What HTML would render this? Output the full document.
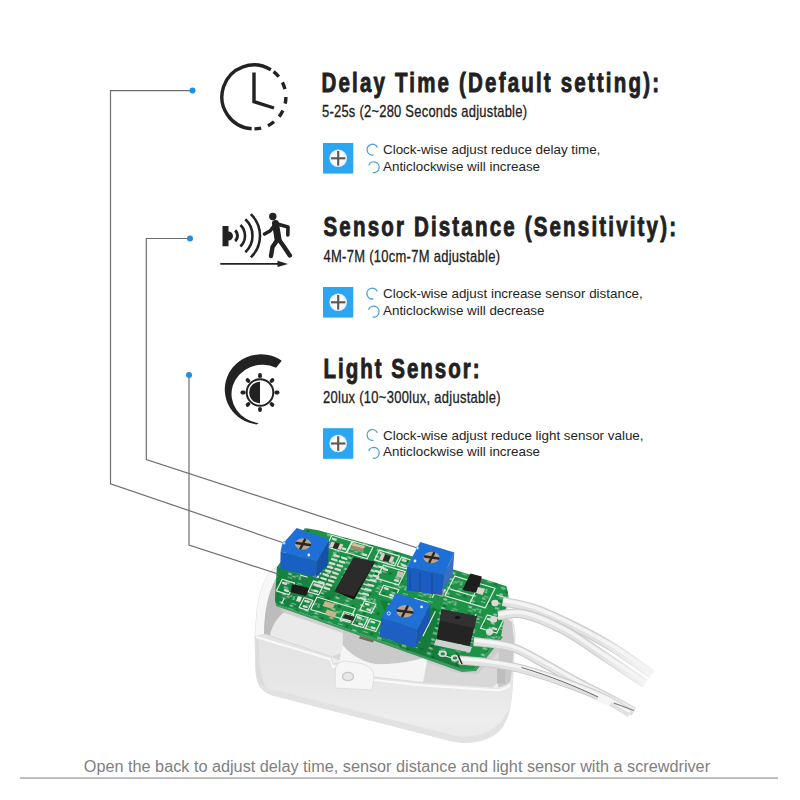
<!DOCTYPE html>
<html><head><meta charset="utf-8">
<style>
html,body{margin:0;padding:0;background:#fff;width:800px;height:800px;overflow:hidden}
svg{display:block}
text{font-family:"Liberation Sans",sans-serif}
</style></head>
<body>
<svg width="800" height="800" viewBox="0 0 800 800">
<defs>
  <radialGradient id="scr" cx="0.5" cy="0.5" r="0.5">
    <stop offset="0" stop-color="#fff"/><stop offset="0.8" stop-color="#f4f8fb"/><stop offset="1" stop-color="#dfe9f0"/>
  </radialGradient>
  <g id="blueicon">
    <rect x="0" y="0" width="30.3" height="30.6" fill="#2ca5f3"/>
    <circle cx="15.2" cy="15.3" r="8.8" fill="url(#scr)"/>
    <rect x="8" y="14.25" width="14.4" height="2.1" fill="#5e5650"/>
    <rect x="14.15" y="8" width="2.1" height="14.6" fill="#5e5650"/>
  </g>
  <path id="acw" d="M 0.9 5.3 A 5.4 5.4 0 1 1 4.9 -2.3" fill="none" stroke="#4f9bd4" stroke-width="1.3"/>
  <path id="accw" d="M -5.07 -1.85 A 5.4 5.4 0 1 1 -0.94 5.32" fill="none" stroke="#4f9bd4" stroke-width="1.3"/>
</defs>

<!-- PRODUCT -->
<defs>
  <linearGradient id="frontwall" x1="0" y1="0" x2="0" y2="1">
    <stop offset="0" stop-color="#e3e3e3"/><stop offset="0.4" stop-color="#e6e6e6"/><stop offset="0.8" stop-color="#ededed"/><stop offset="1" stop-color="#e9e9e9"/>
  </linearGradient>
  <linearGradient id="cavity" x1="0" y1="0" x2="1" y2="0.3">
    <stop offset="0" stop-color="#d2d2d2"/><stop offset="0.5" stop-color="#e2e2e2"/><stop offset="1" stop-color="#cfcfcf"/>
  </linearGradient>
  <radialGradient id="pir" cx="0.5" cy="0.45" r="0.5">
    <stop offset="0" stop-color="#ececec"/><stop offset="0.85" stop-color="#e2e2e2"/><stop offset="1" stop-color="#cdcdcd"/>
  </radialGradient>
  <linearGradient id="wire" x1="0" y1="0" x2="0" y2="1">
    <stop offset="0" stop-color="#fafafa"/><stop offset="1" stop-color="#dedede"/>
  </linearGradient>
</defs>
<g id="housing">
  <!-- silhouette -->
  <path d="M 270 572 C 263 582 259 595 257 610 L 255 636 L 256 672 C 257 684 261 691 272 695 L 452 741 C 472 745 490 740 500 730 C 508 720 511 705 512 690 L 513.5 662 L 515 636 C 515 628 513 622 510 614 L 506 604 L 470 586 L 300 548 Z" fill="#eeeeee" stroke="#dedede" stroke-width="1"/>
  <!-- cavity base -->
  <path d="M 276 578 C 268 592 264 612 264 634 L 331 656.5 L 374 677 L 423 682.5 L 493 687 L 505 678 L 506 604 L 470 586 L 300 548 Z" fill="#d8d8d8"/>
  <!-- left floor bright -->
  <path d="M 269 635 C 273 620 282 611 296 608 L 346 624 L 346 652 L 331 656.5 Z" fill="#eaeaea"/>
  <!-- left inner wall (darker) -->
  <path d="M 277 576 C 268 592 263 612 264 634 L 270 635 C 273 622 281 612 293 606 L 279 603 Z" fill="#bcbcbc"/>
  <!-- shadow under PCB -->
  <path d="M 279 605 L 462 669 L 474 669 L 501 636 L 503 646 L 478 674 L 458 673 L 282 612 Z" fill="#c9c9c9" opacity="0.8"/>
  <!-- PIR disc -->
  <path d="M 343 612 L 342.75 645 C 352 657 368 664.5 381 664.3 C 398 664 414 661 426.75 657 C 430 648 432 636 430 622 L 420 610 Z" fill="#cacaca"/>
  <path d="M 360 636 L 374 640 L 373 642.5 L 359 638.5 Z" fill="#7a6a58"/>
  <!-- white crescent under disc -->
  <path d="M 342.75 645 C 352 657 368 664.5 381 664.3 C 398 664 414 661 426.75 657 L 426.75 662.5 L 423 682.5 L 374 677 L 339 662.5 Z" fill="#f5f5f5"/>
  <!-- right inner wall (gray strip) -->
  <path d="M 497 612 L 512 622 L 514 640 L 511 690 L 498 689 L 499 650 Z" fill="#c9c9c9"/>
  <path d="M 497 660 L 505 662 L 505 684 L 497 683 Z" fill="#bdbdbd"/>
  <!-- left rim light band -->
  <path d="M 270 572 C 263 582 259 595 257 610 L 255 636 L 264 634 C 264 612 268 592 277 576 Z" fill="#f7f7f7"/>
  <!-- front wall -->
  <path d="M 255 636 L 264 634 L 331 656.5 L 333 664 L 343 662 L 374 677 L 423 682.5 L 493 687 C 500 688 505 686 510 682 L 513.5 662 L 512 690 C 511 705 508 720 500 730 C 490 740 472 745 452 741 L 272 695 C 261 691 257 684 256 672 Z" fill="url(#frontwall)"/>
  <path d="M 255 636 L 259 637 C 259 660 260 676 266 688 L 272 695 C 261 691 257 684 256 672 Z" fill="#dcdcdc"/>
  <!-- rim highlight -->
  <path d="M 256 637 L 331 659.5 L 333 667 L 343 665 L 374 680 L 423 685.5 L 493 690 C 500 691 505 689 510 685" fill="none" stroke="#f9f9f9" stroke-width="2.2"/>
  <path d="M 264 634 L 331 656.5 L 333 664 L 343 662 L 374 677 L 423 682.5 L 493 687" fill="none" stroke="#d6d6d6" stroke-width="0.8"/>
  <!-- tab -->
  <path d="M 335 688 L 335.5 668 C 337 663 341 661 346 661 L 363 664 C 370 666 374 671 374 677 L 372 690 Z" fill="#f6f6f6" stroke="#dadada" stroke-width="0.8"/>
  <ellipse cx="348" cy="676.5" rx="5.5" ry="4.2" fill="#e8e8e8" stroke="#c8c8c8" stroke-width="1.3"/>
  <!-- bottom shading -->
  <path d="M 258 682 C 260 689 264 692 272 695 L 452 741 C 472 745 490 740 500 730 C 506 723 509 714 511 704 C 505 720 495 731 478 735 C 468 737 460 737 452 735 L 276 690 C 268 688 262 686 258 682 Z" fill="#e2e2e2"/>
</g>
<g id="pcb">
  <!-- board edge (thickness) -->
  <path d="M 275 599 L 276 606 L 462 672 L 476 671 L 503 637 L 501 636 L 474 669 L 462 669 L 279 605 C 276 604 275 602 275 599 Z" fill="#3c9a5c"/>
  <!-- board -->
  <path d="M 305 528 L 317 530 L 400 552.5 L 506.5 586.3 L 508.5 596 L 501 636 L 474 669 L 462 669 L 279 605 C 276 604 275 602 275 599 L 277 567 Z" fill="#1c9247"/>
  <!-- shading -->
  <path d="M 277 567 L 300 575 L 330 560 L 336 595 L 320 612 L 279 605 C 276 604 275 602 275 599 Z" fill="#10793a" opacity="0.6"/>
  <path d="M 380 600 L 440 610 L 436 640 L 462 669 L 400 648 Z" fill="#0f7036" opacity="0.6"/>
  <!-- texture -->
  <defs>
    <pattern id="pcbtex" width="26" height="21" patternUnits="userSpaceOnUse" patternTransform="rotate(17)">
      <rect x="7.1" y="2.7" width="2.5" height="1.6" fill="#e6eee6"/><rect x="2.1" y="10.5" width="3.5" height="1.6" fill="#d3e3d6"/><rect x="9.5" y="1.3" width="2.5" height="1.4" fill="#c2d8c6"/><rect x="1.3" y="10.2" width="3.5" height="1.4" fill="#e6eee6"/><rect x="12.8" y="1.1" width="2" height="1.6" fill="#d3e3d6"/><rect x="1.0" y="15.5" width="4.5" height="2" fill="#d3e3d6"/><rect x="11.9" y="10.3" width="3.5" height="1.6" fill="#e6eee6"/><rect x="12.6" y="3.4" width="2.5" height="1.4" fill="#e6eee6"/><rect x="1.4" y="1.1" width="3.5" height="2" fill="#e6eee6"/><rect x="11.7" y="14.0" width="5" height="0.9" fill="#d9e6db"/><rect x="12.9" y="8.2" width="5" height="0.9" fill="#d9e6db"/><rect x="5.5" y="3.2" width="3" height="0.9" fill="#d9e6db"/><rect x="1.8" y="5.4" width="5" height="0.9" fill="#d9e6db"/><rect x="19.3" y="13.1" width="3" height="2.4" fill="#0c5a28"/><rect x="6.3" y="17.6" width="3" height="2.4" fill="#0c5a28"/><rect x="2.6" y="7.5" width="3" height="2.4" fill="#0c5a28"/>
    </pattern>
    <clipPath id="pcbclip"><path d="M 305 528 L 317 530 L 400 552.5 L 506.5 586.3 L 508.5 596 L 501 636 L 474 669 L 462 669 L 279 605 C 276 604 275 602 275 599 L 277 567 Z"/></clipPath>
  </defs>
  <g clip-path="url(#pcbclip)" opacity="0.6">
    <rect x="270" y="520" width="245" height="155" fill="url(#pcbtex)"/>
  </g>
  <!-- silkscreen outlines -->
  <g fill="none" stroke="#e3ece3" stroke-width="1.15" stroke-linejoin="round" id="silk">
    <path d="M 282.2 579.3 L 294.7 583.1 L 288.8 594.7 L 276.3 590.9 Z"/>
    <path d="M 313.4 581.1 L 324.0 584.2 L 318.6 594.9 L 308.0 591.8 Z"/>
    <path d="M 304.2 597.8 L 312.8 600.4 L 307.8 610.2 L 299.2 607.6 Z"/>
    <path d="M 317.0 597.0 L 355.3 608.5 L 349.0 621.0 L 310.7 609.5 Z"/>
    <path d="M 356.7 614.4 L 368.2 617.8 L 363.3 627.6 L 351.8 624.2 Z"/>
    <path d="M 370.2 618.5 L 380.7 621.7 L 375.8 631.5 L 365.3 628.3 Z"/>
    <path d="M 344.2 611.5 L 353.8 614.4 L 349.8 622.5 L 340.2 619.6 Z"/>
    <path d="M 331.9 535.2 L 352.0 541.2 L 346.1 552.8 L 326.0 546.8 Z"/>
    <path d="M 352.9 541.2 L 373.0 547.2 L 367.1 558.8 L 347.0 552.8 Z"/>
    <path d="M 379.4 550.1 L 399.5 556.1 L 394.6 565.9 L 374.5 559.9 Z"/>
    <path d="M 401.5 557.1 L 411.0 560.0 L 406.5 568.9 L 397.0 566.0 Z"/>
    <path d="M 383.4 565.0 L 405.4 571.6 L 398.6 585.0 L 376.6 578.4 Z"/>
    <path d="M 383.6 585.2 L 398.9 589.8 L 394.4 598.8 L 379.1 594.2 Z"/>
    <path d="M 364.5 600.8 L 376.0 604.3 L 371.5 613.2 L 360.0 609.7 Z"/>
    <path d="M 454.8 576.1 L 495.1 588.2 L 485.2 607.9 L 444.9 595.8 Z"/>
    <path d="M 487.2 614.9 L 503.5 619.7 L 496.8 633.1 L 480.5 628.3 Z"/>
    <path d="M 308.5 533.8 L 320.0 537.3 L 315.5 546.2 L 304.0 542.7 Z"/>
    <path d="M 450.4 589.1 L 473.4 596.0"/>
    <path d="M 479.7 583.6 L 469.8 603.3"/>
    <path d="M 476.1 613.9 L 459.9 646.1"/>
    <path d="M 432.3 597.7 L 438.6 585.2"/>
    <path d="M 435.4 611.3 L 422.8 636.3"/>
    <path d="M 414.3 598.3 L 427.7 602.3"/>
    <path d="M 438.6 654.0 L 465.4 662.0"/>
    <path d="M 496.2 594.9 L 505.7 597.7"/>
    <path d="M 284.3 598.3 L 281.6 603.6"/>
    <path d="M 300.0 575.0 L 307.7 577.3"/>
  </g>
  <g stroke="#d5ddd5" stroke-width="2.3" stroke-linecap="round" id="pads">
    <path d="M 341.9 557.5 L 346.3 558.8"/>
    <path d="M 334.3 555.2 L 338.7 556.5"/>
    <path d="M 339.8 561.3 L 344.2 562.6"/>
    <path d="M 332.1 559.0 L 336.5 560.3"/>
    <path d="M 337.6 565.1 L 342.0 566.4"/>
    <path d="M 330.0 562.8 L 334.4 564.1"/>
    <path d="M 322.3 560.5 L 326.7 561.8"/>
    <path d="M 335.5 568.9 L 339.9 570.2"/>
    <path d="M 327.8 566.6 L 332.2 567.9"/>
    <path d="M 320.1 564.3 L 324.6 565.6"/>
    <path d="M 333.3 572.7 L 337.7 574.0"/>
    <path d="M 325.7 570.4 L 330.1 571.7"/>
    <path d="M 318.0 568.1 L 322.4 569.4"/>
    <path d="M 331.2 576.5 L 335.6 577.8"/>
    <path d="M 323.5 574.2 L 327.9 575.5"/>
    <path d="M 315.8 571.9 L 320.3 573.2"/>
    <path d="M 329.0 580.3 L 333.4 581.6"/>
    <path d="M 321.4 578.0 L 325.8 579.3"/>
    <path d="M 313.7 575.7 L 318.1 577.0"/>
    <path d="M 326.9 584.1 L 331.3 585.4"/>
    <path d="M 319.2 581.8 L 323.6 583.1"/>
    <path d="M 324.7 587.9 L 329.1 589.2"/>
    <path d="M 317.1 585.6 L 321.5 586.9"/>
    <path d="M 378.5 566.5 L 383.3 567.9"/>
    <path d="M 375.9 571.0 L 380.7 572.4"/>
    <path d="M 373.4 575.5 L 378.2 576.9"/>
    <path d="M 370.9 580.0 L 375.6 581.4"/>
    <path d="M 368.3 584.5 L 373.1 585.9"/>
    <path d="M 365.8 589.0 L 370.5 590.4"/>
    <path d="M 363.2 593.5 L 368.0 594.9"/>
    <path d="M 360.6 598.0 L 365.4 599.4"/>
    <path d="M 283.1 582.9 L 286.0 583.8"/>
    <path d="M 285.0 590.2 L 287.9 591.1"/>
    <path d="M 314.5 584.5 L 317.4 585.3"/>
    <path d="M 314.6 590.7 L 317.5 591.5"/>
    <path d="M 305.3 601.0 L 308.2 601.8"/>
    <path d="M 303.8 606.2 L 306.7 607.0"/>
    <path d="M 357.9 617.5 L 360.8 618.4"/>
    <path d="M 359.2 623.6 L 362.1 624.5"/>
    <path d="M 371.4 621.7 L 374.2 622.5"/>
    <path d="M 371.8 627.5 L 374.6 628.3"/>
    <path d="M 345.6 614.3 L 348.5 615.1"/>
    <path d="M 345.5 618.9 L 348.4 619.7"/>
    <path d="M 332.8 538.8 L 335.7 539.7"/>
    <path d="M 342.3 548.3 L 345.2 549.2"/>
    <path d="M 353.8 544.8 L 356.7 545.7"/>
    <path d="M 363.3 554.3 L 366.2 555.2"/>
    <path d="M 380.6 553.2 L 383.4 554.1"/>
    <path d="M 390.6 561.9 L 393.4 562.8"/>
    <path d="M 402.7 560.1 L 405.6 560.9"/>
    <path d="M 402.4 565.1 L 405.3 565.9"/>
    <path d="M 384.1 569.1 L 386.9 569.9"/>
    <path d="M 395.1 580.1 L 397.9 580.9"/>
    <path d="M 384.9 588.2 L 387.7 589.1"/>
    <path d="M 390.3 594.9 L 393.1 595.8"/>
    <path d="M 365.8 603.8 L 368.6 604.6"/>
    <path d="M 367.4 609.4 L 370.2 610.2"/>
    <path d="M 487.9 618.9 L 490.8 619.8"/>
    <path d="M 493.2 628.2 L 496.1 629.1"/>
    <path d="M 309.8 536.8 L 312.6 537.6"/>
    <path d="M 311.4 542.4 L 314.2 543.2"/>
  </g>
  <!-- SMD parts -->
  <g>
    <path d="M 331.5 541.5 L 343.5 544.5 L 341 550 L 329 547 Z" fill="#2a2a26"/>
    <path d="M 331.5 541.5 L 335 542.4 L 332.5 547.9 L 329 547 Z" fill="#d8d2c0"/>
    <path d="M 340 543.6 L 343.5 544.5 L 341 550 L 337.5 549.1 Z" fill="#d8d2c0"/>
    <path d="M 353 543 L 365 546 L 362.5 552 L 350.5 549 Z" fill="#9c8a6a"/>
    <path d="M 353 543 L 365 546 L 364 548.5 L 352 545.5 Z" fill="#cfc2a5"/>
    <path d="M 381.5 553.5 L 394.5 557 L 392 563 L 379 559.5 Z" fill="#2b2a26"/>
    <path d="M 381.5 553.5 L 385 554.5 L 382.5 560.5 L 379 559.5 Z" fill="#d8d2c0"/>
    <path d="M 391 556 L 394.5 557 L 392 563 L 388.5 562 Z" fill="#d8d2c0"/>
    <path d="M 325 601 L 335 604 L 332.5 609 L 322.5 606 Z" fill="#c7b38c"/>
    <path d="M 327 609.5 L 337 612.5 L 334.5 617.5 L 324.5 614.5 Z" fill="#c7b38c"/>
    <path d="M 345 614 L 355 617 L 353 621 L 343 618 Z" fill="#2a2a2a"/>
    <path d="M 434 586 L 446 589.5 L 443 597 L 431 593.5 Z" fill="#b6a078"/>
    <path d="M 434 586 L 446 589.5 L 445 592 L 433 588.5 Z" fill="#e1d7c2"/>
    <path d="M 398 571 L 404 572.5 L 402 578 L 396 576.5 Z" fill="#c8c0b0"/>
  </g>
  <!-- SOT left -->
  <path d="M 292.5 584 L 309 588 L 306 596 L 290 592 Z" fill="#1a1d1b"/>
  <path d="M 298 596 L 302 597 L 300 602 L 296 601 Z" fill="#dfe4df"/>
  <!-- SOT right -->
  <path d="M 470.5 573.5 L 481.8 576.5 L 478 593 L 462.3 590 Z" fill="#1d1d1d"/>
  <path d="M 478 587 L 485 589 L 482.5 595 L 476 593 Z" fill="#d8d6cf"/>
  <!-- chip -->
  <path d="M 353.9 557.3 L 374.9 562.1 L 354 599.5 L 334.6 591.4 Z" fill="#111"/>
  <path d="M 353.9 557.3 L 374.9 562.1 L 353.9 596.6 L 334.6 591.4 Z" fill="#2b2b2b"/>
  <g stroke="#d0d0d0" stroke-width="1.7" stroke-linecap="round">
    <path d="M 374 566 L 377 567"/><path d="M 371.5 570.5 L 374.5 571.5"/><path d="M 369 575 L 372 576"/>
    <path d="M 366.5 579.5 L 369.5 580.5"/><path d="M 364 584 L 367 585"/><path d="M 361.5 588.5 L 364.5 589.5"/>
    <path d="M 359 593 L 362 594"/><path d="M 356.5 597.5 L 359.5 598.5"/>
  </g>
  <!-- MOSFET -->
  <path d="M 436 639 L 472 647 L 470 652.5 L 434 645 Z" fill="#d0d0d0"/>
  <path d="M 441.75 609.25 L 476.75 616.25 L 469.75 646 L 436.5 639 Z" fill="#242424"/>
  <path d="M 441.75 609.25 L 476.75 616.25 L 474.5 628 L 439.5 620.5 Z" fill="#313131"/>
  <ellipse cx="457.5" cy="617.5" rx="2.8" ry="1.6" fill="#151515"/>
  <!-- solder pads with holes -->
  <g fill="#dadada">
    <ellipse cx="442.7" cy="653.8" rx="4.2" ry="3.2"/>
    <ellipse cx="455" cy="658" rx="4.2" ry="3.2"/>
    <ellipse cx="495" cy="603" rx="3.6" ry="3.2"/>
    <ellipse cx="493.6" cy="619.5" rx="3.6" ry="3.2"/>
    <ellipse cx="489.5" cy="631.8" rx="3.6" ry="3.2"/>
  </g>
  <g fill="#178a3f">
    <ellipse cx="442.7" cy="653.8" rx="2.2" ry="1.6"/>
    <ellipse cx="455" cy="658" rx="2.2" ry="1.6"/>
  </g>
</g>
<g id="wires" fill="none" stroke-linecap="butt">
  <defs>
    <linearGradient id="wo" gradientUnits="userSpaceOnUse" x1="595" y1="0" x2="655" y2="0"><stop offset="0" stop-color="#c9c9c9"/><stop offset="1" stop-color="#f4f4f4"/></linearGradient>
    <linearGradient id="wb" gradientUnits="userSpaceOnUse" x1="595" y1="0" x2="655" y2="0"><stop offset="0" stop-color="#e1e1e1"/><stop offset="1" stop-color="#f7f7f7"/></linearGradient>
    <linearGradient id="wo2" gradientUnits="userSpaceOnUse" x1="590" y1="0" x2="640" y2="0"><stop offset="0" stop-color="#c9c9c9"/><stop offset="1" stop-color="#e0e0e0"/></linearGradient>
  </defs>
  <path d="M 503.0 601.5 C 508.3 602.8 522.9 604.8 535.0 609.0 C 547.1 613.2 562.4 620.5 575.5 627.0 C 588.6 633.5 601.0 640.1 613.8 648.0 C 626.5 655.9 645.6 670.1 652.0 674.5" stroke="url(#wo)" stroke-width="9.5"/>
  <path d="M 503.0 601.5 C 508.3 602.8 522.9 604.8 535.0 609.0 C 547.1 613.2 562.4 620.5 575.5 627.0 C 588.6 633.5 601.0 640.1 613.8 648.0 C 626.5 655.9 645.6 670.1 652.0 674.5" stroke="url(#wb)" stroke-width="7.5"/>
  <path d="M 503.0 600.2 C 508.3 601.5 522.9 603.5 535.0 607.7 C 547.1 612.0 562.4 619.2 575.5 625.7 C 588.6 632.2 601.0 638.8 613.8 646.7 C 626.5 654.6 645.6 668.8 652.0 673.2" stroke="#f4f4f4" stroke-width="3.5"/>
  <path d="M 498.0 615.5 C 502.3 615.2 512.8 611.6 523.8 614.0 C 534.8 616.4 550.9 623.2 564.0 630.0 C 577.1 636.8 589.0 646.1 602.5 655.0 C 616.0 663.9 637.9 678.8 645.0 683.5" stroke="url(#wo)" stroke-width="9.5"/>
  <path d="M 498.0 615.5 C 502.3 615.2 512.8 611.6 523.8 614.0 C 534.8 616.4 550.9 623.2 564.0 630.0 C 577.1 636.8 589.0 646.1 602.5 655.0 C 616.0 663.9 637.9 678.8 645.0 683.5" stroke="url(#wb)" stroke-width="7.5"/>
  <path d="M 498.0 614.2 C 502.3 614.0 512.8 610.3 523.8 612.7 C 534.8 615.1 550.9 621.9 564.0 628.7 C 577.1 635.5 589.0 644.8 602.5 653.7 C 616.0 662.6 637.9 677.5 645.0 682.2" stroke="#f4f4f4" stroke-width="3.5"/>
  <path d="M 474.0 641.5 C 480.4 642.5 500.8 643.8 512.5 647.5 C 524.2 651.2 532.8 657.5 544.0 663.5 C 555.2 669.5 569.5 677.9 580.0 683.5 C 590.5 689.1 598.0 692.3 607.0 697.0 C 616.0 701.7 629.5 709.1 634.0 711.5" stroke="url(#wo2)" stroke-width="9"/>
  <path d="M 474.0 641.5 C 480.4 642.5 500.8 643.8 512.5 647.5 C 524.2 651.2 532.8 657.5 544.0 663.5 C 555.2 669.5 569.5 677.9 580.0 683.5 C 590.5 689.1 598.0 692.3 607.0 697.0 C 616.0 701.7 629.5 709.1 634.0 711.5" stroke="#e2e2e2" stroke-width="7"/>
  <path d="M 474.0 640.2 C 480.4 641.2 500.8 642.5 512.5 646.2 C 524.2 649.9 532.8 656.2 544.0 662.2 C 555.2 668.2 569.5 676.6 580.0 682.2 C 590.5 687.8 598.0 691.0 607.0 695.7 C 616.0 700.4 629.5 707.8 634.0 710.2" stroke="#f4f4f4" stroke-width="3.2"/>
  <path d="M 459.0 660.0 C 464.2 660.5 479.2 661.4 490.0 663.0 C 500.8 664.6 510.6 666.0 523.8 669.5 C 536.9 673.0 554.9 679.0 568.8 684.0 C 582.6 689.0 596.8 694.7 607.0 699.5 C 617.2 704.3 626.2 710.8 630.0 713.0" stroke="url(#wo2)" stroke-width="9"/>
  <path d="M 459.0 660.0 C 464.2 660.5 479.2 661.4 490.0 663.0 C 500.8 664.6 510.6 666.0 523.8 669.5 C 536.9 673.0 554.9 679.0 568.8 684.0 C 582.6 689.0 596.8 694.7 607.0 699.5 C 617.2 704.3 626.2 710.8 630.0 713.0" stroke="#e2e2e2" stroke-width="7"/>
  <path d="M 459.0 658.7 C 464.2 659.2 479.2 660.1 490.0 661.7 C 500.8 663.3 510.6 664.7 523.8 668.2 C 536.9 671.7 554.9 677.7 568.8 682.7 C 582.6 687.7 596.8 693.4 607.0 698.2 C 617.2 703.0 626.2 709.5 630.0 711.7" stroke="#f4f4f4" stroke-width="3.2"/>
  <path d="M 521.5 667.5 C 550 676 575 686 598 697" stroke="#6a6a6a" stroke-width="1"/>
  <path d="M 613.75 703 L 634 710.5" stroke="#7a7a7a" stroke-width="1.1"/>
  <path d="M 598 697.5 L 611 702.5" stroke="#f6f6f6" stroke-width="8"/>
  <path d="M 458 655 L 462 664" stroke="#3a2a20" stroke-width="1.6"/>
</g>
<g id="pots">
  <!-- left pot -->
  <path d="M 280.6 551.5 L 317 561 L 315.5 577 L 280.3 568.8 Z" fill="#1a5fc2"/>
  <path d="M 317 561 L 329 539.5 L 328 565 L 315.5 577.8 Z" fill="#1650a8"/>
  <path d="M 280.6 551.5 L 282.1 544.4 L 296.75 528 L 329 539.5 L 317 561 Z" fill="#1f6fd8"/>
  <ellipse cx="303" cy="544" rx="8" ry="5.8" fill="#b3a592"/>
  <path d="M 296.5 543 L 310 545 M 305 539.5 L 300.5 548.5" stroke="#2e2520" stroke-width="2.4" stroke-linecap="round"/>
  <circle cx="308.8" cy="555" r="1.4" fill="#e8f0ff"/>
  <!-- middle pot -->
  <path d="M 407.1 566.5 L 444.25 574.75 L 442 595 L 406.75 590.5 Z" fill="#1a5cbf"/>
  <path d="M 410 570 L 410 590 M 420 572 L 420 592 M 432 574 L 432 594" stroke="#1550a6" stroke-width="1.5"/>
  <path d="M 444.25 574.75 L 454.4 552.6 L 452.5 575 L 445 586 L 442 595 Z" fill="#3a6fbf"/>
  <path d="M 407.1 566.5 L 420.25 542.1 L 454.4 552.6 L 444.25 574.75 Z" fill="#1f6fd8"/>
  <ellipse cx="431.5" cy="557.5" rx="8" ry="5.8" fill="#b3a592"/>
  <path d="M 425 556.5 L 438.5 558.5 M 434 553 L 429.5 562" stroke="#2e2520" stroke-width="2.4" stroke-linecap="round"/>
  <circle cx="415" cy="561" r="1.4" fill="#e8f0ff"/>
  <!-- bottom pot -->
  <path d="M 381.4 617.4 L 417.25 629.6 L 415.5 648 L 379.6 636.6 Z" fill="#1e5fc4"/>
  <path d="M 417.25 629.6 L 430.4 603.8 L 429.5 621.75 L 415.5 648 Z" fill="#1a56b0"/>
  <path d="M 381.4 617.4 L 396.25 592.9 L 430.4 603.8 L 417.25 629.6 Z" fill="#2070d8"/>
  <ellipse cx="405" cy="611.3" rx="8.5" ry="6.2" fill="#b3a592"/>
  <path d="M 397.5 610.5 L 412.5 612.5 M 407.5 606.5 L 402.5 616" stroke="#2e2520" stroke-width="2.6" stroke-linecap="round"/>
  <circle cx="388.8" cy="613.4" r="1.6" fill="none" stroke="#e8f0ff" stroke-width="0.9"/>
  <circle cx="421.6" cy="606.9" r="1.4" fill="#e8f0ff"/>
</g>

<!-- leader lines -->
<g fill="none" stroke="#6e6e6e" stroke-width="1.2">
  <polyline points="192.5,90.6 110.5,90.6 110.5,483.8 284,543"/>
  <polyline points="190,238.5 146.3,238.5 146.3,459.5 417.5,548"/>
  <polyline points="189,375 189,545 278,574"/>
</g>
<g fill="#d8ecfa" stroke="#4a9ad8" stroke-width="0.6">
  <circle cx="284" cy="543" r="1.4"/>
  <circle cx="417.5" cy="548" r="1.4"/>
</g>
<g fill="#238ee0">
  <circle cx="192.5" cy="90.6" r="3"/>
  <circle cx="190" cy="238.5" r="3"/>
  <circle cx="189" cy="375" r="3"/>
</g>

<!-- clock icon -->
<g fill="none" stroke="#222" stroke-width="3.4">
  <path d="M 251.67 128.82 A 32 32 0 1 1 270.86 69.76"/>
  <path d="M 273.60 71.68 A 32 32 0 0 1 278.77 76.76"/>
  <path d="M 282.41 82.37 A 32 32 0 0 1 284.95 89.16"/>
  <path d="M 285.90 96.90 A 32 32 0 0 1 285.20 103.55"/>
  <path d="M 282.90 110.42 A 32 32 0 0 1 279.12 116.60"/>
  <path d="M 274.04 121.77 A 32 32 0 0 1 267.93 125.66"/>
  <path d="M 261.10 128.08 A 32 32 0 0 1 254.46 128.90"/>
  <path d="M 254 72.4 L 254 101.7 L 274 108"/>
</g>

<!-- sensor icon -->
<g fill="#222">
  <path d="M 222.5 226 L 228.5 226 L 228.5 231.5 A 4.3 4.3 0 0 1 228.5 240.5 L 228.5 246.3 L 222.5 246.3 Z"/>
</g>
<g fill="none" stroke="#222" stroke-linecap="butt">
  <path d="M 235.21 230.35 A 7.5 7.5 0 0 1 235.21 241.15" stroke-width="3"/>
  <path d="M 240.42 224.96 A 15 15 0 0 1 240.42 246.54" stroke-width="2.6"/>
  <path d="M 245.34 219.29 A 22.5 22.5 0 0 1 245.34 252.21" stroke-width="2.6"/>
  <path d="M 250.84 214.17 A 30 30 0 0 1 250.84 257.33" stroke-width="2.6"/>
</g>
<g fill="none" stroke="#222" stroke-linecap="round" stroke-linejoin="round">
  <circle cx="272.8" cy="216.5" r="3.7" fill="#222" stroke="none"/>
  <path d="M 275.5 223.5 L 278 239" stroke-width="7"/>
  <path d="M 275.5 223.5 L 288 227 L 287.8 235" stroke-width="3.6"/>
  <path d="M 274 226 L 270 231 L 264.5 234" stroke-width="3.6"/>
  <path d="M 278 239 L 272.5 247 L 271 256" stroke-width="4.4"/>
  <path d="M 278.5 239 L 284.5 247.5 L 289.8 255.5" stroke-width="4.4"/>
</g>
<path d="M 220.3 263.9 L 280 263.9" stroke="#222" stroke-width="1.9"/>
<path d="M 277.5 260.8 L 288 263.9 L 277.5 267 Z" fill="#222"/>
<!-- light icon -->
<path d="M 281.76 360.67 A 36.2 35.2 0 1 0 256.59 424.44 L 258.72 423.03 A 31 29.25 0 1 1 276.09 367.71 Z" fill="#222"/>
<circle cx="260" cy="392.5" r="13.3" fill="none" stroke="#222" stroke-width="2"/>
<path d="M 260 381.7 A 10.8 10.8 0 0 0 260 403.3 Z" fill="#222"/>
<g stroke="#222" stroke-width="3.8" stroke-linecap="round"><path d="M 276.30 392.50 L 277.60 392.50"/><path d="M 271.53 404.03 L 272.45 404.95"/><path d="M 260.00 408.80 L 260.00 410.10"/><path d="M 248.47 404.03 L 247.55 404.95"/><path d="M 243.70 392.50 L 242.40 392.50"/><path d="M 248.47 380.97 L 247.55 380.05"/><path d="M 260.00 376.20 L 260.00 374.90"/><path d="M 271.53 380.97 L 272.45 380.05"/></g>

<!-- titles -->
<g fill="#212121" stroke="#212121" id="titles">
  <text transform="translate(321.5,91.5) scale(0.76,1)" x="0" y="0" font-size="27" font-weight="bold" stroke-width="0.9" textLength="444.08" lengthAdjust="spacing">Delay Time (Default setting):</text>
  <text transform="translate(323.5,235.6) scale(0.76,1)" x="0" y="0" font-size="27" font-weight="bold" stroke-width="0.9" textLength="463.82" lengthAdjust="spacing">Sensor Distance (Sensitivity):</text>
  <text transform="translate(323.5,377.5) scale(0.76,1)" x="0" y="0" font-size="27" font-weight="bold" stroke-width="0.9" textLength="205.26" lengthAdjust="spacing">Light Sensor:</text>
  <text transform="translate(322,117.3) scale(0.78,1)" x="0" y="0" font-size="16.6" font-weight="normal" stroke-width="0.3" textLength="262.82" lengthAdjust="spacing">5-25s (2~280 Seconds adjustable)</text>
  <text transform="translate(323.5,261.6) scale(0.78,1)" x="0" y="0" font-size="16.6" font-weight="normal" stroke-width="0.3" textLength="226.28" lengthAdjust="spacing">4M-7M (10cm-7M adjustable)</text>
  <text transform="translate(323,403) scale(0.78,1)" x="0" y="0" font-size="16.6" font-weight="normal" stroke-width="0.3" textLength="227.56" lengthAdjust="spacing">20lux (10~300lux, adjustable)</text>
</g>
<g fill="#242424" font-size="13.4">
  <text x="383" y="154.2">Clock-wise adjust reduce delay time,</text>
  <text x="383" y="171.4">Anticlockwise will increase</text>
  <text x="383" y="298.3">Clock-wise adjust increase sensor distance,</text>
  <text x="383" y="314.5">Anticlockwise will decrease</text>
  <text x="383" y="439.7">Clock-wise adjust reduce light sensor value,</text>
  <text x="383" y="455.8">Anticlockwise will increase</text>
</g>
<use href="#blueicon" x="323" y="143"/>
<use href="#blueicon" x="323" y="287"/>
<use href="#blueicon" x="323" y="428.2"/>
<use href="#acw" x="372.5" y="149.7"/><use href="#accw" x="373.8" y="167.2"/>
<use href="#acw" x="372.3" y="293.6"/><use href="#accw" x="373.6" y="311.6"/>
<use href="#acw" x="372.5" y="435.0"/><use href="#accw" x="373.8" y="452.9"/>

<!-- caption -->
<text x="83.8" y="771.8" font-size="16.24" fill="#808080">Open the back to adjust delay time, sensor distance and light sensor with a screwdriver</text>
<rect x="20" y="777.3" width="758" height="1.5" fill="#a8a8a8"/>

</svg>
</body></html>
